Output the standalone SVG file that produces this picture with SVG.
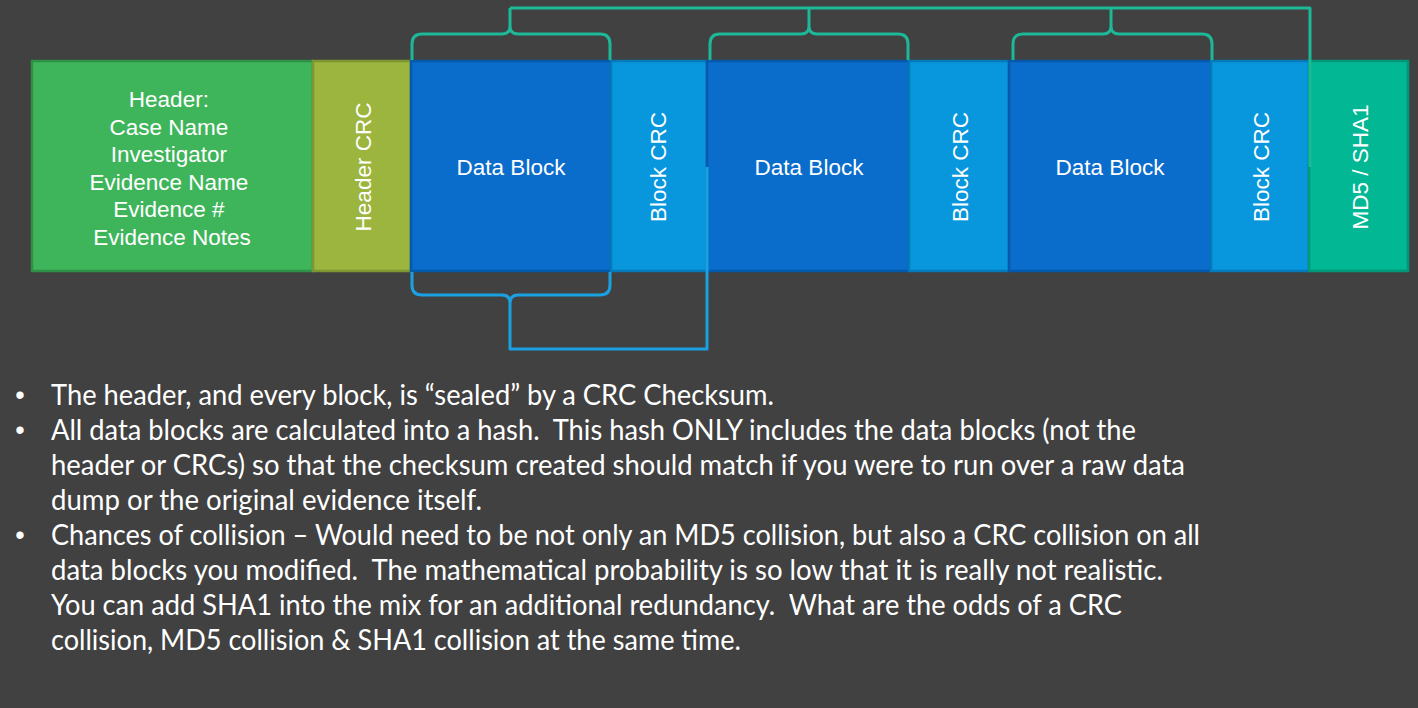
<svg xmlns="http://www.w3.org/2000/svg" width="1418" height="708" viewBox="0 0 1418 708">
  <style>
    .box-label { font-family: "Liberation Sans", Arial, sans-serif; font-size: 22.5px; fill: #ffffff; }
    .vert { text-anchor: middle; dominant-baseline: central; }
    .bullet-text { font-family: Lato, "Liberation Sans", sans-serif; font-size: 29px; fill: #ffffff; }
    .dot { font-family: "Liberation Sans", Arial, sans-serif; font-size: 27px; text-anchor: middle; }
    .hdr { fill: #3fb55b; stroke: #2f9148; stroke-width: 2.5; }
    .hcrc { fill: #9bb53e; stroke: #7d9632; stroke-width: 2.5; }
    .data { fill: #0a6ccb; stroke: #0559aa; stroke-width: 2.5; }
    .bcrc { fill: #0896dd; stroke: #0679b8; stroke-width: 2.5; }
    .hash { fill: #02b793; stroke: #03977a; stroke-width: 2.5; }
    .brace-top { fill: none; stroke: #1cb898; stroke-width: 3; stroke-linejoin: round; }
    .brace-bot { fill: none; stroke: #1ba1e2; stroke-width: 3; stroke-linejoin: round; }
  </style>

  <!-- page background -->
  <rect x="0" y="0" width="1418" height="708" fill="#414141"/>

  <!-- evidence file layout -->
  <g id="header">
    <rect class="hdr" x="32" y="61" width="281" height="210"/>
    <text class="box-label" text-anchor="middle">
      <tspan x="172" y="107">Header:</tspan>
      <tspan x="172" y="134.5">Case Name</tspan>
      <tspan x="172" y="162">Investigator</tspan>
      <tspan x="172" y="189.5">Evidence Name</tspan>
      <tspan x="172" y="217">Evidence #</tspan>
      <tspan x="172" y="244.5">Evidence Notes</tspan>
    </text>
  </g>

  <g id="header-crc">
    <rect class="hcrc" x="313" y="61" width="98" height="210"/>
    <text class="box-label vert" transform="translate(363,167) rotate(-90)">Header CRC</text>
  </g>

  <g id="data-block-1">
    <rect class="data" x="411" y="61" width="200" height="210"/>
    <text class="box-label" x="511" y="175" text-anchor="middle">Data Block</text>
  </g>

  <g id="block-crc-1">
    <rect class="bcrc" x="611" y="61" width="96" height="210"/>
    <text class="box-label vert" transform="translate(658,167) rotate(-90)">Block CRC</text>
  </g>

  <g id="data-block-2">
    <rect class="data" x="707" y="61" width="202" height="210"/>
    <text class="box-label" x="809" y="175" text-anchor="middle">Data Block</text>
  </g>

  <g id="block-crc-2">
    <rect class="bcrc" x="909" y="61" width="100" height="210"/>
    <text class="box-label vert" transform="translate(960,167) rotate(-90)">Block CRC</text>
  </g>

  <g id="data-block-3">
    <rect class="data" x="1009" y="61" width="202" height="210"/>
    <text class="box-label" x="1110" y="175" text-anchor="middle">Data Block</text>
  </g>

  <g id="block-crc-3">
    <rect class="bcrc" x="1211" y="61" width="98" height="210"/>
    <text class="box-label vert" transform="translate(1261,167) rotate(-90)">Block CRC</text>
  </g>

  <g id="md5-sha1">
    <rect class="hash" x="1309" y="61" width="99" height="210"/>
    <text class="box-label vert" transform="translate(1360,167) rotate(-90)">MD5 / SHA1</text>
  </g>

  <!-- braces and lines -->
  <g id="connectors">
    <!-- data blocks feed the hash -->
    <path class="brace-top" d="M412,60 V44 Q412,34 422,34 H502 Q510,34 510,26 V8 M510,26 Q510,34 518,34 H600 Q610,34 610,44 V60"/>
    <path class="brace-top" d="M710,60 V44 Q710,34 720,34 H801 Q809,34 809,26 V8 M809,26 Q809,34 817,34 H898 Q908,34 908,44 V60"/>
    <path class="brace-top" d="M1013,60 V44 Q1013,34 1023,34 H1103 Q1111,34 1111,26 V8 M1111,26 Q1111,34 1119,34 H1202 Q1212,34 1212,44 V60"/>
    <path class="brace-top" d="M510,8 H1310 V167"/>
    <!-- data block sealed by its CRC -->
    <path class="brace-bot" d="M412,272 V285 Q412,295 422,295 H502 Q510,295 510,303 V349 H707 V167 M510,303 Q510,295 518,295 H600 Q610,295 610,285 V272"/>
  </g>

  <!-- notes -->
  <g id="notes" class="bullet-text">
    <text class="dot" x="20" y="404">•</text>
    <text class="dot" x="20" y="439">•</text>
    <text class="dot" x="20" y="544">•</text>
    <text x="51" y="405" textLength="723" lengthAdjust="spacingAndGlyphs">The header, and every block, is “sealed” by a CRC Checksum.</text>
    <text x="51" y="440" textLength="1085" lengthAdjust="spacingAndGlyphs" xml:space="preserve">All data blocks are calculated into a hash.  This hash ONLY includes the data blocks (not the</text>
    <text x="51" y="475" textLength="1134" lengthAdjust="spacingAndGlyphs">header or CRCs) so that the checksum created should match if you were to run over a raw data</text>
    <text x="51" y="510" textLength="431" lengthAdjust="spacingAndGlyphs">dump or the original evidence itself.</text>
    <text x="51" y="545" textLength="1149" lengthAdjust="spacingAndGlyphs">Chances of collision – Would need to be not only an MD5 collision, but also a CRC collision on all</text>
    <text x="51" y="580" textLength="1112" lengthAdjust="spacingAndGlyphs" xml:space="preserve">data blocks you modified.  The mathematical probability is so low that it is really not realistic.</text>
    <text x="51" y="615" textLength="1071" lengthAdjust="spacingAndGlyphs" xml:space="preserve">You can add SHA1 into the mix for an additional redundancy.  What are the odds of a CRC</text>
    <text x="51" y="650" textLength="690" lengthAdjust="spacingAndGlyphs">collision, MD5 collision &amp; SHA1 collision at the same time.</text>
  </g>
</svg>
